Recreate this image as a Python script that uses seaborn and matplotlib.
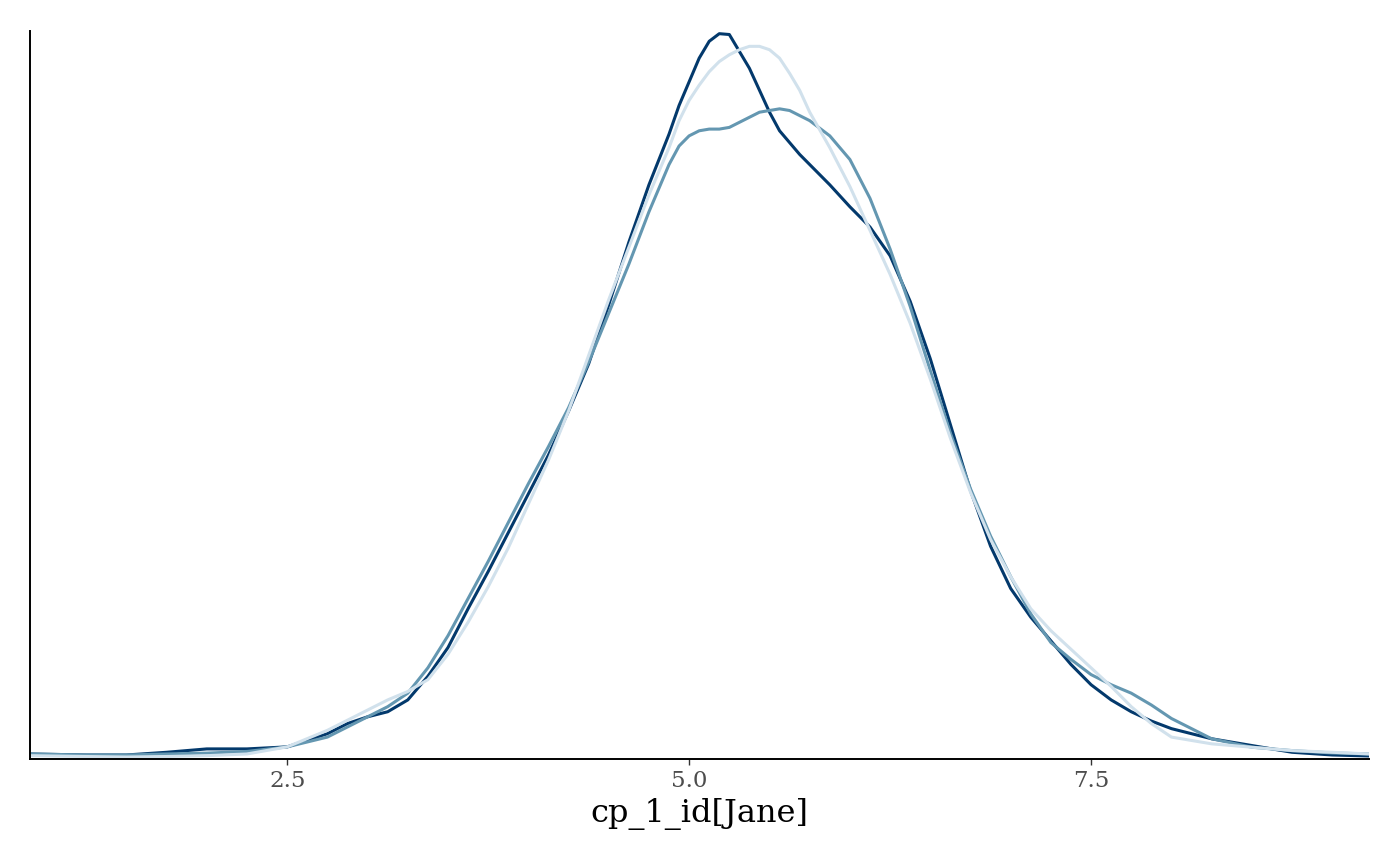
import numpy as np
import pandas as pd
import matplotlib
matplotlib.use("Agg")
import matplotlib.pyplot as plt
import seaborn as sns

# density estimates, one series per chain
grid = [0.9, 1.25, 1.5, 1.75, 2.0, 2.25, 2.5,
        2.75, 2.875, 3.0, 3.125, 3.25, 3.375, 3.5,
        3.625, 3.75, 3.875, 4.0, 4.125, 4.25, 4.375, 4.5,
        4.625, 4.75, 4.875,
        4.9375, 5.0, 5.0625, 5.125, 5.1875, 5.25, 5.3125, 5.375, 5.4375, 5.5,
        5.5625, 5.625, 5.6875, 5.75,
        5.875, 6.0, 6.125, 6.25, 6.375, 6.5, 6.625, 6.75, 6.875, 7.0, 7.125,
        7.25, 7.375, 7.5,
        7.625, 7.75, 7.875, 8.0, 8.25, 8.5, 8.75, 9.0, 9.23]

chain_dark = [0.003, 0.0024, 0.0024, 0.004, 0.006, 0.006, 0.0072,
              0.015, 0.021, 0.025, 0.028, 0.035, 0.049, 0.066,
              0.089, 0.111, 0.134, 0.157, 0.180, 0.206, 0.234, 0.269,
              0.306, 0.340, 0.370,
              0.387, 0.401, 0.415, 0.425, 0.4295, 0.429, 0.419, 0.409, 0.396, 0.383,
              0.372, 0.365, 0.358, 0.352,
              0.340, 0.327, 0.315, 0.298, 0.271, 0.237, 0.198, 0.159, 0.126, 0.101, 0.084,
              0.070, 0.056, 0.044,
              0.035, 0.028, 0.0225, 0.018, 0.012, 0.008, 0.004, 0.0024, 0.0018]

chain_mid = [0.003, 0.0024, 0.0024, 0.003, 0.0035, 0.0045, 0.0072,
             0.013, 0.019, 0.025, 0.031, 0.039, 0.054, 0.073,
             0.095, 0.117, 0.140, 0.163, 0.185, 0.208, 0.235, 0.264,
             0.293, 0.324, 0.352,
             0.363, 0.369, 0.372, 0.373, 0.373, 0.374, 0.377, 0.380, 0.383, 0.384,
             0.385, 0.384, 0.381, 0.378,
             0.369, 0.355, 0.332, 0.302, 0.268, 0.230, 0.193, 0.160, 0.132, 0.108, 0.086,
             0.069, 0.059, 0.050,
             0.044, 0.039, 0.032, 0.024, 0.012, 0.007, 0.005, 0.0036, 0.003]

chain_light = [0.002, 0.0015, 0.0012, 0.0015, 0.002, 0.003, 0.0072,
               0.017, 0.023, 0.029, 0.035, 0.040, 0.047, 0.062,
               0.081, 0.102, 0.125, 0.151, 0.177, 0.206, 0.239, 0.272,
               0.303, 0.334, 0.362,
               0.378, 0.390, 0.399, 0.407, 0.413, 0.417, 0.420, 0.422, 0.422, 0.420,
               0.415, 0.406, 0.396, 0.383,
               0.362, 0.339, 0.313, 0.287, 0.258, 0.225, 0.190, 0.158, 0.130, 0.108, 0.089,
               0.076, 0.065, 0.054,
               0.043, 0.031, 0.021, 0.013, 0.009, 0.007, 0.005, 0.004, 0.003]

chains = ["3", "2", "1"]
xticks = [2.5, 5.0, 7.5]
xlabel = "cp_1_id[Jane]"

df = pd.concat([
    pd.DataFrame({"value": grid, "density": d, "chain": c})
    for c, d in zip(chains, [chain_dark, chain_mid, chain_light])
])

sns.set_theme(style="white")
plt.rcParams["font.family"] = ["DejaVu Serif"]

fig = plt.figure(figsize=(14, 8.65), dpi=100)
ax = fig.add_axes([0.0214, 0.1225, 0.9566, 0.8415])

palette = {"3": "#03396c", "2": "#6497b1", "1": "#d1e1ec"}
sns.lineplot(data=df, x="value", y="density", hue="chain", hue_order=chains,
             palette=palette, linewidth=2.2, legend=False, ax=ax)

ax.set_xlim(0.9, 9.23)
ax.set_ylim(0, 0.431)
ax.set_yticks([])
ax.set_xticks(xticks)
ax.set_xticklabels([f"{t:.1f}" for t in xticks])
ax.tick_params(axis="x", bottom=True, length=4, width=1, color="#333333",
               labelsize=16.5, labelcolor="#4d4d4d", pad=4)
ax.set_xlabel(xlabel, fontsize=23, color="black", labelpad=4)
ax.set_ylabel("")

sns.despine(ax=ax)
for side in ["left", "bottom"]:
    ax.spines[side].set_color("black")
    ax.spines[side].set_linewidth(1.4)

fig.savefig("out.png", dpi=100)
